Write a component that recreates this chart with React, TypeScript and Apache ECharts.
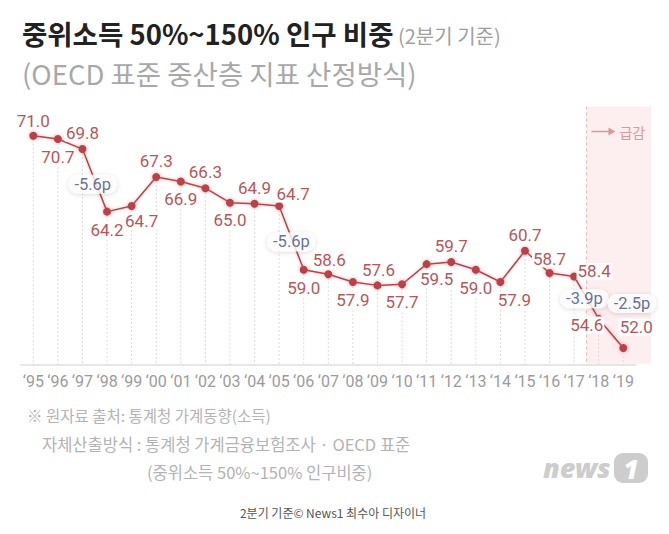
import React, { useEffect, useRef } from "react";
import * as echarts from "echarts";

// ---- data ----
const years = ["‘95", "‘96", "‘97", "‘98", "‘99", "‘00", "‘01", "‘02", "‘03", "‘04", "‘05", "‘06", "‘07", "‘08", "‘09", "‘10", "‘11", "‘12", "‘13", "‘14", "‘15", "‘16", "‘17", "‘18", "‘19"];
const shareValues = [71.0, 70.7, 69.8, 64.2, 64.7, 67.3, 66.9, 66.3, 65.0, 64.9, 64.7, 59.0, 58.6, 57.9, 57.6, 57.7, 59.5, 59.7, 59.0, 57.9, 60.7, 58.7, 58.4, 54.6, 52.0];
const dropTexts = ["-5.6p", "-5.6p", "-3.9p", "-2.5p"];
const dropFromIndex = [2, 10, 22, 23];
const titleMain = "중위소득 50%~150% 인구 비중";
const titleNote = "(2분기 기준)";
const subtitle = "(OECD 표준 중산층 지표 산정방식)";
const sourceLines = ["※ 원자료 출처: 통계청 가계동향(소득)", "자체산출방식 : 통계청 가계금융보험조사 · OECD 표준", "(중위소득 50%~150% 인구비중)"];
const creditText = "2분기 기준© News1 최수아 디자이너";
const shadedLabel = "급감";

// ---- styles (label placement, offsets) ----
const labelOffsets: [number, number][] = [
  [0, -15], [0, 18], [0, -16], [0, 18], [10, 15], [0, -16], [0, 18], [0, -16], [0, 17], [0, -16],
  [14, -12], [0, 18], [1, -14], [0, 18], [1, -15], [0, 18], [10, 15], [0, -16], [0, 18], [14, 18],
  [0, -16], [0, -14], [20, -5], [-12, 6], [13, -21],
];
const badgeOffsets: [number, number][] = [[-2, 4], [0, 4], [-2, 1], [21, -30]];

const Y_MIN = 50.5;
const Y_MAX = 72;
const NUM_FONT = "Roboto, 'Liberation Sans', sans-serif";
const KR_FONT = "'Noto Sans CJK KR', 'Noto Sans', sans-serif";
const RED = "#b8424a";
const LABEL_RED = "#b5565a";
const PINK = "#dc9898";

export default function App() {
  const ref = useRef<HTMLDivElement>(null);
  useEffect(() => {
    const chart = echarts.init(ref.current!, null, { renderer: "svg" });
    chart.setOption({
      animation: false,
      backgroundColor: "#ffffff",
      grid: { left: 21, right: 33.4, top: 124.5, bottom: 169.3, outerBoundsMode: "none" },
      xAxis: [
        {
          type: "category",
          data: years,
          boundaryGap: true,
          axisLine: { lineStyle: { color: "#e6e6e6", width: 2 } },
          axisTick: { show: false },
          axisLabel: { interval: 0, color: "#9b9b9b", fontSize: 16, fontFamily: NUM_FONT, margin: 9 },
          splitLine: { show: false },
        },
        { type: "value", min: -0.5, max: 24.5, show: false },
      ],
      yAxis: { type: "value", min: Y_MIN, max: Y_MAX, show: false },
      series: [
        {
          type: "custom",
          z: 1,
          silent: true,
          data: shareValues.map((v, i) => [i, v]),
          renderItem: (_p: any, api: any) => {
            const a = api.coord([api.value(0), api.value(1)]);
            const b = api.coord([api.value(0), Y_MIN]);
            return {
              type: "line",
              shape: { x1: a[0], y1: a[1], x2: b[0], y2: b[1] },
              style: { stroke: "#dcdcdc", lineWidth: 1, lineDash: [2, 2] },
            };
          },
        },
        {
          type: "line",
          z: 3,
          data: shareValues.map((v, i) => ({ value: v, label: { offset: labelOffsets[i] } })),
          symbol: "circle",
          symbolSize: 8,
          lineStyle: { color: RED, width: 1.5, shadowBlur: 3, shadowColor: "rgba(220,120,120,0.5)" },
          itemStyle: { color: RED, shadowBlur: 4, shadowColor: "rgba(220,110,110,0.6)" },
          label: {
            show: true,
            position: "inside",
            color: LABEL_RED,
            fontSize: 17,
            fontFamily: NUM_FONT,
            backgroundColor: "#ffffff",
            padding: [0, 1],
            formatter: (p: any) => Number(p.value).toFixed(1),
          },
        },
        {
          type: "scatter",
          xAxisIndex: 1,
          z: 5,
          symbolSize: 0,
          itemStyle: { color: "rgba(0,0,0,0)" },
          data: dropTexts.map((t, k) => {
            const i = dropFromIndex[k];
            return {
              name: t,
              value: [i + 0.5, (shareValues[i] + shareValues[i + 1]) / 2],
              label: { offset: badgeOffsets[k] },
            };
          }),
          label: {
            show: true,
            position: "inside",
            formatter: "{b}",
            color: "#3c4c7c",
            fontSize: 16.5,
            fontFamily: NUM_FONT,
            backgroundColor: "#ffffff",
            borderRadius: 10,
            padding: [1, 6, 1, 6],
            shadowBlur: 5,
            shadowColor: "rgba(0,0,0,0.18)",
            shadowOffsetY: 1,
          },
        },
      ],
    });

    const xL = chart.convertToPixel({ xAxisIndex: 1 }, 22.5) as number;
    const xR = chart.convertToPixel({ xAxisIndex: 1 }, 25.12) as number;
    const yB = chart.convertToPixel({ yAxisIndex: 0 }, Y_MIN) as number;
    const yT = (chart.convertToPixel({ yAxisIndex: 0 }, Y_MAX) as number) - 18;

    chart.setOption({
      graphic: [
        { type: "rect", z: -1, silent: true, shape: { x: xL, y: yT, width: xR - xL, height: yB - yT - 1 }, style: { fill: "#fdeef0" } },
        { type: "line", z: 0, silent: true, shape: { x1: xL, y1: yT, x2: xL, y2: yB - 1 }, style: { stroke: "#e8b4b8", lineWidth: 1, lineDash: [3, 3] } },
        { type: "line", z: 6, silent: true, shape: { x1: xL + 5, y1: yT + 25, x2: xL + 24, y2: yT + 25 }, style: { stroke: PINK, lineWidth: 1.5 } },
        { type: "polygon", z: 6, silent: true, shape: { points: [[xL + 22, yT + 21], [xL + 29, yT + 25], [xL + 22, yT + 29]] }, style: { fill: PINK } },
        { type: "text", z: 6, silent: true, style: { text: shadedLabel, x: xL + 33, y: yT + 25, fill: PINK, fontSize: 14, fontFamily: KR_FONT, verticalAlign: "middle" } },

        { type: "text", silent: true, style: { text: titleMain, x: 22, y: 33, fill: "#222222", fontSize: 27.5, fontWeight: "bold", fontFamily: KR_FONT, verticalAlign: "middle" } },
        { type: "text", silent: true, style: { text: titleNote, x: 398, y: 35, fill: "#a0a0a0", fontSize: 20, fontFamily: KR_FONT, verticalAlign: "middle" } },
        { type: "text", silent: true, style: { text: subtitle, x: 22, y: 73, fill: "#a8a8a8", fontSize: 27.5, fontFamily: KR_FONT, verticalAlign: "middle" } },

        { type: "text", silent: true, style: { text: sourceLines[0], x: 27, y: 415, fill: "#b3b3b3", fontSize: 15.5, fontFamily: KR_FONT, verticalAlign: "middle" } },
        { type: "text", silent: true, style: { text: sourceLines[1], x: 42, y: 444, fill: "#b3b3b3", fontSize: 16.5, fontFamily: KR_FONT, verticalAlign: "middle" } },
        { type: "text", silent: true, style: { text: sourceLines[2], x: 147, y: 472, fill: "#b3b3b3", fontSize: 16.5, fontFamily: KR_FONT, verticalAlign: "middle" } },

        { type: "text", silent: true, style: { text: "news", x: 543, y: 467, fill: "#cdcdcd", fontSize: 27, fontWeight: 900, fontStyle: "italic", fontFamily: "'Noto Sans', sans-serif", verticalAlign: "middle" } },
        { type: "rect", silent: true, shape: { x: 614, y: 453, width: 34, height: 30, r: 9 }, style: { fill: "#cdcdcd" } },
        { type: "text", silent: true, style: { text: "1", x: 631, y: 469, fill: "#ffffff", fontSize: 26, fontWeight: 900, fontStyle: "italic", fontFamily: "'Noto Sans', sans-serif", align: "center", verticalAlign: "middle" } },

        { type: "text", silent: true, style: { text: creditText, x: 333, y: 512, fill: "#555555", fontSize: 12, fontFamily: KR_FONT, align: "center", verticalAlign: "middle" } },
      ],
    });

    return () => chart.dispose();
  }, []);
  return <div ref={ref} style={{ position: "fixed", left: 0, top: 0, width: 669, height: 534 }} />;
}
